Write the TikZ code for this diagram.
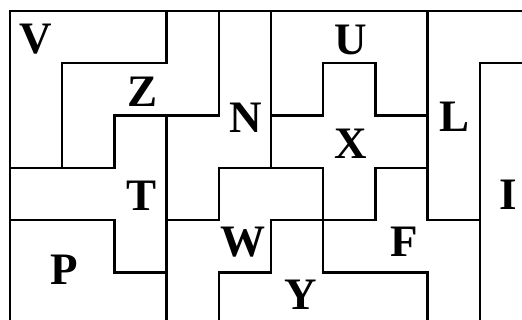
\documentclass[tikz,border=0pt]{standalone}
\usepackage{fontspec}
\setmainfont{Liberation Serif}
\begin{document}
\begin{tikzpicture}[x=1pt,y=-1pt,
  piece/.style={draw=black,line width=2.4pt,line join=miter},
  lab/.style={font=\fontsize{45}{45}\selectfont\bfseries,inner sep=0pt,anchor=center}]
\useasboundingbox (0,0) rectangle (522,320);
\clip (0,0) rectangle (522,320);
\begin{scope}[shift={(10,11)},x=52.2pt,y=-52.3pt]
% V
\draw[piece] (0,0)--(3,0)--(3,1)--(1,1)--(1,3)--(0,3)--cycle;
% Z
\draw[piece] (3,0)--(4,0)--(4,2)--(2,2)--(2,3)--(1,3)--(1,1)--(3,1)--cycle;
% T
\draw[piece] (2,2)--(3,2)--(3,5)--(2,5)--(2,4)--(0,4)--(0,3)--(2,3)--cycle;
% P
\draw[piece] (0,4)--(2,4)--(2,5)--(3,5)--(3,6)--(0,6)--cycle;
% N
\draw[piece] (4,0)--(5,0)--(5,3)--(4,3)--(4,4)--(3,4)--(3,2)--(4,2)--cycle;
% W
\draw[piece] (4,3)--(6,3)--(6,4)--(5,4)--(5,5)--(4,5)--(4,6)--(3,6)--(3,4)--(4,4)--cycle;
% Y
\draw[piece] (5,4)--(6,4)--(6,5)--(8,5)--(8,6)--(4,6)--(4,5)--(5,5)--cycle;
% U
\draw[piece] (5,0)--(8,0)--(8,2)--(7,2)--(7,1)--(6,1)--(6,2)--(5,2)--cycle;
% X
\draw[piece] (6,1)--(7,1)--(7,2)--(8,2)--(8,3)--(7,3)--(7,4)--(6,4)--(6,3)--(5,3)--(5,2)--(6,2)--cycle;
% F
\draw[piece] (7,3)--(8,3)--(8,4)--(9,4)--(9,6)--(8,6)--(8,5)--(6,5)--(6,4)--(7,4)--cycle;
% L
\draw[piece] (8,0)--(10,0)--(10,1)--(9,1)--(9,4)--(8,4)--cycle;
% I
\draw[piece] (9,1)--(10,1)--(10,6)--(9,6)--cycle;
\end{scope}
\node[lab] (lV) at (36,39) {V};
\node[lab] (lZ) at (143,92) {Z};
\node[lab] (lN) at (246,118) {N};
\node[lab] (lU) at (351,40) {U};
\node[lab] (lX) at (351,144) {X};
\node[lab] (lL) at (455,117) {L};
\node[lab] (lI) at (508,195) {I};
\node[lab] (lT) at (142,196) {T};
\node[lab] (lP) at (64,270) {P};
\node[lab] (lW) at (243,242) {W};
\node[lab] (lF) at (404,242) {F};
\node[lab] (lY) at (301,295) {Y};
\end{tikzpicture}
\end{document}
